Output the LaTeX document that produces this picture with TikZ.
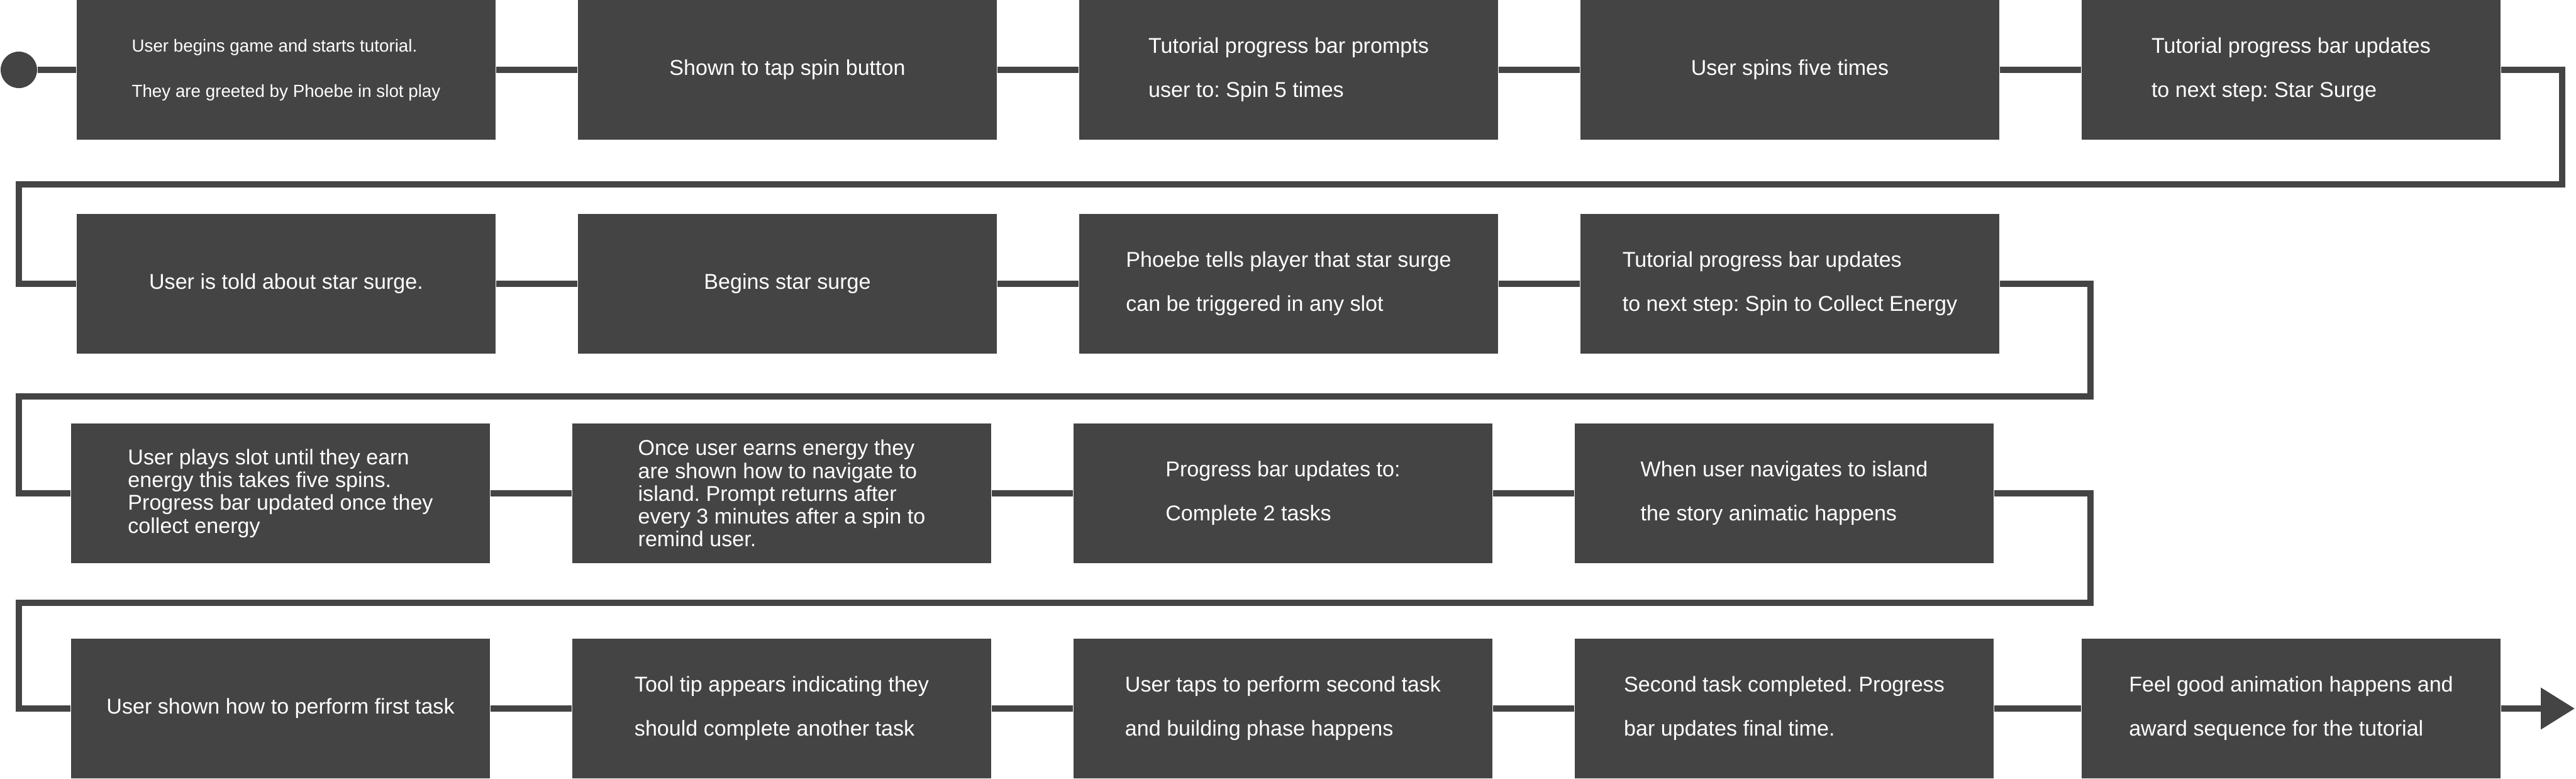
\documentclass[tikz,border=0pt]{standalone}
\usepackage{fontspec}
\usepackage{tikz}
\usetikzlibrary{arrows.meta}
\newfontfamily\boxfont{Liberation Sans}
\definecolor{boxgray}{HTML}{444444}
\frenchspacing
\tikzset{
  stepbox/.style={rectangle, fill=boxgray, draw=none, text=white, align=left,
    minimum width=6.66cm, minimum height=2.22cm, inner sep=0pt,
    font=\boxfont\fontsize{9.7}{20}\selectfont},
  tightbox/.style={stepbox, font=\boxfont\fontsize{9.7}{10.3}\selectfont},
  smallbox/.style={stepbox, font=\boxfont\fontsize{7.9}{20.5}\selectfont},
  flow/.style={draw=boxgray, line width=0.105cm}
}
\newcommand{\stepnode}[5][stepbox]{\node[#1] (#2) at ( #3 , #4 ) {#5};}

\begin{document}
\begin{tikzpicture}
        \useasboundingbox (0,0) rectangle (40.96,-12.37);
        % start
        \node[circle, fill=boxgray, minimum size=0.58cm, inner sep=0pt] (start) at (0.30,-1.11) {};
        % row1
        \stepnode[smallbox]{r1a}{4.55}{-1.11}{User begins game and starts tutorial.\\They are greeted by Phoebe in slot play}
        \stepnode{r1b}{12.52}{-1.11}{Shown to tap spin button}
        \stepnode{r1c}{20.49}{-1.11}{Tutorial progress bar prompts\\user to: Spin 5 times}
        \stepnode{r1d}{28.46}{-1.11}{User spins five times}
        \stepnode{r1e}{36.43}{-1.11}{Tutorial progress bar updates\\to next step: Star Surge}
        % row2
        \stepnode{r2a}{4.55}{-4.51}{User is told about star surge.}
        \stepnode{r2b}{12.52}{-4.51}{Begins star surge}
        \stepnode{r2c}{20.49}{-4.51}{Phoebe tells player that star surge\\can be triggered in any slot}
        \stepnode{r2d}{28.46}{-4.51}{Tutorial progress bar updates\\to next step: Spin to Collect Energy}
        % row3
        \stepnode[tightbox]{r3a}{4.46}{-7.84}{User plays slot until they earn\\energy this takes five spins.\\Progress bar updated once they\\collect energy}
        \stepnode[tightbox]{r3b}{12.43}{-7.84}{Once user earns energy they\\are shown how to navigate to\\island. Prompt returns after\\every 3 minutes after a spin to\\remind user.}
        \stepnode{r3c}{20.40}{-7.84}{Progress bar updates to:\\Complete 2 tasks}
        \stepnode{r3d}{28.37}{-7.84}{When user navigates to island\\the story animatic happens}
        % row4
        \stepnode{r4a}{4.46}{-11.26}{User shown how to perform first task}
        \stepnode{r4b}{12.43}{-11.26}{Tool tip appears indicating they\\should complete another task}
        \stepnode{r4c}{20.40}{-11.26}{User taps to perform second task\\and building phase happens}
        \stepnode{r4d}{28.37}{-11.26}{Second task completed. Progress\\bar updates final time.}
        \stepnode{r4e}{36.43}{-11.26}{Feel good animation happens and\\award sequence for the tutorial}

        % turning points
        \coordinate (t1) at (40.74,-2.93);
        \coordinate (l1) at (0.30,-2.93);
        \coordinate (t2) at (33.24,-6.30);
        \coordinate (l2) at (0.30,-6.30);
        \coordinate (t3) at (33.24,-9.58);
        \coordinate (l3) at (0.30,-9.58);
        \coordinate (finish) at (40.94,-11.26);

        % links row1
        \draw[flow] (start) -- (r1a);
        \draw[flow] (r1a) -- (r1b);
        \draw[flow] (r1b) -- (r1c);
        \draw[flow] (r1c) -- (r1d);
        \draw[flow] (r1d) -- (r1e);
        \draw[flow] (r1e.east) -| (t1) -- (l1) |- (r2a.west);
        % links row2
        \draw[flow] (r2a) -- (r2b);
        \draw[flow] (r2b) -- (r2c);
        \draw[flow] (r2c) -- (r2d);
        \draw[flow] (r2d.east) -| (t2) -- (l2) |- (r3a.west);
        % links row3
        \draw[flow] (r3a) -- (r3b);
        \draw[flow] (r3b) -- (r3c);
        \draw[flow] (r3c) -- (r3d);
        \draw[flow] (r3d.east) -| (t3) -- (l3) |- (r4a.west);
        % links row4
        \draw[flow] (r4a) -- (r4b);
        \draw[flow] (r4b) -- (r4c);
        \draw[flow] (r4c) -- (r4d);
        \draw[flow] (r4d) -- (r4e);
        \draw[flow, -{Triangle[length=0.54cm,width=0.64cm]}] (r4e.east) -- (finish);
    \end{tikzpicture}
\end{document}
